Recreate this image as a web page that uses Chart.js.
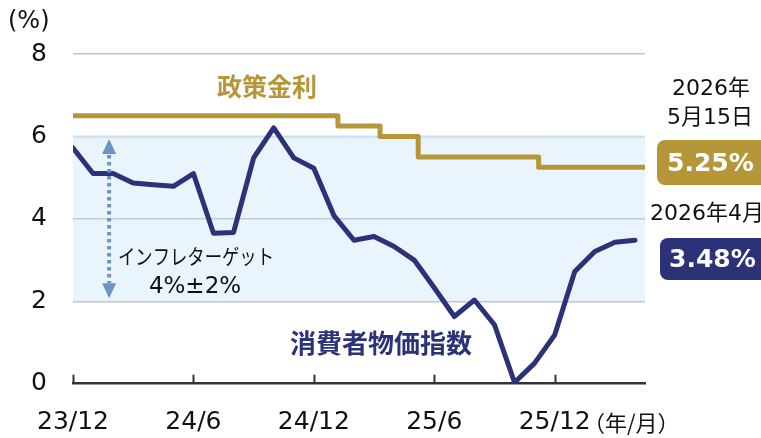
<!DOCTYPE html>
<html>
<head>
<meta charset="utf-8">
<script src="https://cdn.jsdelivr.net/npm/chart.js@4.4.1/dist/chart.umd.min.js"></script>
<style>
  html, body { margin: 0; padding: 0; background: #fff; }
  #wrap { width: 761px; height: 438px; }
</style>
</head>
<body>
<div id="wrap"><canvas id="chart" width="761" height="438"></canvas></div>
<script>
// month index counted from 2023/12 (= 0)
var cpiMonths = [0, 1, 2, 3, 4, 5, 6, 7, 8, 9, 10, 11, 12, 13, 14, 15, 16, 17, 18, 19, 20, 21, 22, 23, 24, 25, 26, 27, 28];
var cpiValues = [5.72, 5.1, 5.1, 4.87, 4.83, 4.79, 5.1, 3.65, 3.67, 5.48, 6.21, 5.48, 5.23, 4.08, 3.48, 3.57, 3.33, 3.0, 2.33, 1.63, 2.03, 1.43, 0.03, 0.5, 1.18, 2.72, 3.21, 3.43, 3.48];

// policy rate changes (month index, rate after change)
var rateMonths = [0, 13.2, 15.3, 17.2, 23.2, 28.5];
var rateValues = [6.5, 6.25, 6.0, 5.5, 5.25, 5.25];

var targetLow = 2;
var targetHigh = 6;
var xMax = 28.5;

var xTickMonths = [0, 6, 12, 18, 24];
var xTickLabels = ['23/12', '24/6', '24/12', '25/6', '25/12'];

var GOLD = '#b5973a';
var NAVY = '#2b3278';
var ARROW = '#6a94c4';
var FONT = '"DejaVu Sans", "Noto Sans CJK JP", sans-serif';
var JP = '"Noto Sans CJK JP", sans-serif';

function pts(xs, ys) {
  return xs.map(function(x, i) { return {x: x, y: ys[i]}; });
}

var extras = {
  id: 'extras',
  afterDraw: function(chart) {
    var ctx = chart.ctx;
    var xs = chart.scales.x, ys = chart.scales.y;
    ctx.save();

    // tick marks pointing up from the axis
    ctx.strokeStyle = '#333';
    ctx.lineWidth = 2;
    xTickMonths.forEach(function(m) {
      var px = Math.round(xs.getPixelForValue(m)) + 0.5;
      ctx.beginPath();
      ctx.moveTo(px, ys.bottom);
      ctx.lineTo(px, ys.bottom - 9);
      ctx.stroke();
    });

    // target range arrow
    var ax = xs.getPixelForValue(1.8);
    var top = ys.getPixelForValue(targetHigh) + 2.5;
    var bot = ys.getPixelForValue(targetLow) - 3;
    ctx.fillStyle = ARROW;
    ctx.beginPath();
    ctx.moveTo(ax, top); ctx.lineTo(ax - 7, top + 15); ctx.lineTo(ax + 7, top + 15); ctx.closePath();
    ctx.fill();
    ctx.beginPath();
    ctx.moveTo(ax, bot); ctx.lineTo(ax - 7, bot - 15); ctx.lineTo(ax + 7, bot - 15); ctx.closePath();
    ctx.fill();
    ctx.strokeStyle = ARROW;
    ctx.lineWidth = 4;
    ctx.setLineDash([3.5, 3.5]);
    ctx.beginPath();
    ctx.moveTo(ax, top + 16);
    ctx.lineTo(ax, bot - 15);
    ctx.stroke();
    ctx.setLineDash([]);

    ctx.fillStyle = '#111';
    ctx.textAlign = 'center';
    ctx.textBaseline = 'middle';
    ctx.font = '21px ' + JP;
    ctx.fillText('インフレターゲット', 196, 256, 156);
    ctx.font = '23px ' + FONT;
    ctx.fillText('4%±2%', 195, 287);

    // series labels
    ctx.font = 'bold 25px ' + JP;
    ctx.fillStyle = GOLD;
    ctx.fillText('政策金利', 267, 86);
    ctx.font = 'bold 26px ' + JP;
    ctx.fillStyle = NAVY;
    ctx.fillText('消費者物価指数', 381, 343);

    // units
    ctx.fillStyle = '#111';
    ctx.textAlign = 'left';
    ctx.font = '24px ' + FONT;
    ctx.fillText('(%)', 8, 22);
    ctx.font = '22px ' + JP;
    ctx.fillText('（年/月）', 583, 423);

    // latest values on the right
    ctx.textAlign = 'center';
    ctx.font = '22px ' + FONT;
    ctx.fillText('2026年', 711, 89);
    ctx.fillText('5月15日', 710, 118);
    ctx.textAlign = 'left';
    ctx.fillText('2026年4月', 650, 214);

    ctx.fillStyle = GOLD;
    ctx.beginPath();
    ctx.roundRect(657, 140, 120, 45, 8);
    ctx.fill();
    ctx.fillStyle = NAVY;
    ctx.beginPath();
    ctx.roundRect(660, 238, 120, 42, 8);
    ctx.fill();

    ctx.fillStyle = '#fff';
    ctx.font = 'bold 25px ' + FONT;
    ctx.fillText(rateValues[rateValues.length - 1].toFixed(2) + '%', 667, 164);
    ctx.fillText(cpiValues[cpiValues.length - 1].toFixed(2) + '%', 669, 260);

    ctx.restore();
  }
};

new Chart(document.getElementById('chart'), {
  type: 'line',
  data: {
    datasets: [{
      label: '消費者物価指数',
      data: pts(cpiMonths, cpiValues),
      borderColor: NAVY,
      borderWidth: 5,
      borderJoinStyle: 'round',
      borderCapStyle: 'round',
      pointRadius: 0,
      tension: 0,
      fill: false
    }, {
      label: '政策金利',
      data: pts(rateMonths, rateValues),
      borderColor: GOLD,
      borderWidth: 5,
      borderJoinStyle: 'round',
      stepped: true,
      pointRadius: 0,
      fill: false
    }, {
      label: 'インフレターゲット',
      data: pts([0, xMax], [targetHigh, targetHigh]),
      borderColor: '#cfe2f3',
      borderWidth: 2,
      backgroundColor: 'rgba(190,220,245,0.32)',
      fill: {value: targetLow},
      pointRadius: 0
    }]
  },
  options: {
    responsive: false,
    animation: false,
    devicePixelRatio: 1,
    layout: { padding: { top: 54, right: 116, left: 0, bottom: 0 } },
    plugins: { legend: { display: false }, tooltip: { enabled: false } },
    scales: {
      x: {
        type: 'linear',
        min: 0,
        max: xMax,
        afterBuildTicks: function(s) {
          s.ticks = xTickMonths.map(function(v) { return {value: v}; });
        },
        afterFit: function(s) { s.height = 54.3; },
        ticks: {
          autoSkip: false,
          maxRotation: 0,
          padding: 24,
          color: '#111',
          font: { family: FONT, size: 25 },
          callback: function(v) { return xTickLabels[xTickMonths.indexOf(v)]; }
        },
        grid: { display: true, drawOnChartArea: false, drawTicks: false, color: 'rgba(0,0,0,0)' },
        border: { display: true, color: '#333', width: 2.5 }
      },
      y: {
        min: 0,
        max: 8,
        afterFit: function(s) { s.width = 73; },
        ticks: {
          stepSize: 2,
          padding: 26,
          color: '#111',
          font: { family: FONT, size: 25 }
        },
        grid: {
          drawTicks: false,
          lineWidth: 1.5,
          color: function(c) { return c.tick && c.tick.value === 0 ? 'rgba(0,0,0,0)' : '#c4c4c4'; }
        },
        border: { display: false }
      }
    }
  },
  plugins: [extras]
});
</script>
</body>
</html>
